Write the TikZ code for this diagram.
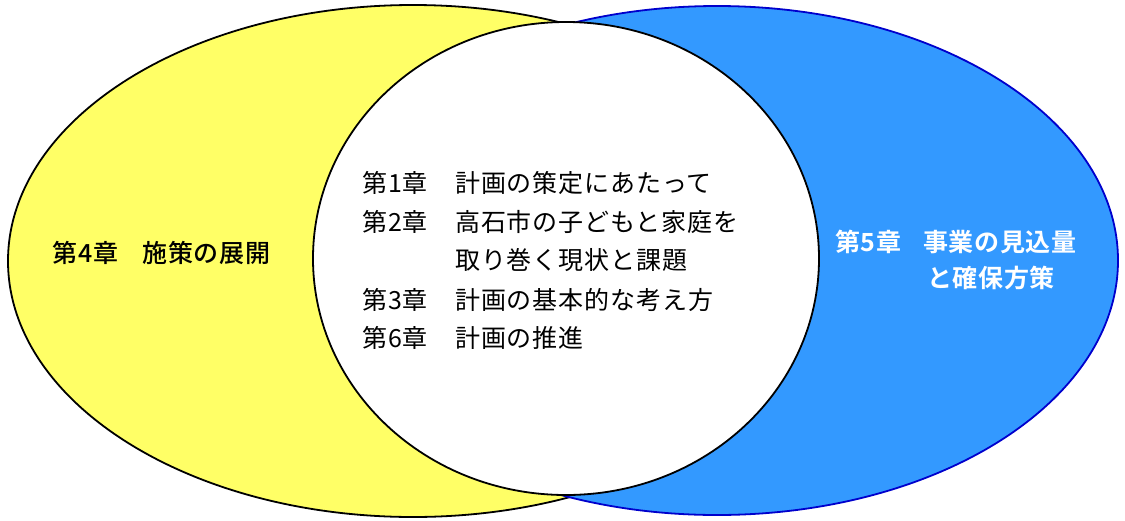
\documentclass[tikz,border=0pt]{standalone}
\usepackage{fontspec}
\usetikzlibrary{shapes.geometric}
\newfontfamily\jp[LetterSpace=3.5]{Noto Sans CJK JP}
\newfontfamily\jpm[LetterSpace=3.5]{Noto Sans CJK JP Medium}
\newfontfamily\jpb[LetterSpace=2.5]{Noto Sans CJK JP Bold}
\definecolor{yelfill}{HTML}{FFFF66}
\definecolor{bluefill}{HTML}{3399FF}
\definecolor{blueline}{HTML}{0000CC}
\begin{document}
\begin{tikzpicture}[x=1pt,y=-1pt,
  oval/.style={ellipse, inner sep=0pt, outer sep=0pt, line width=1.8pt},
  lbl/.style={anchor=west, inner sep=0pt, font=\jp\fontsize{25}{29}\selectfont},
  mlbl/.style={anchor=west, inner sep=0pt, font=\jpm\fontsize{25}{29}\selectfont},
  wlbl/.style={anchor=west, inner sep=0pt, text=white, font=\jpb\fontsize{25}{29}\selectfont}]
\useasboundingbox (0,0) rectangle (1125,520);
\node[oval, draw=black, fill=yelfill, minimum width=810pt, minimum height=512pt] (yel) at (413,261) {};
\node[oval, draw=blueline, fill=bluefill, minimum width=802pt, minimum height=509pt] (blu) at (717,260.5) {};
\node[oval, draw=black, fill=white, minimum width=506pt, minimum height=473pt] (wht) at (566,258.5) {};

\node[mlbl] (c4) at (52,253) {第4章};
\node[mlbl] (t4) at (142,253) {施策の展開};

\node[lbl] (c1) at (362,183) {第1章};
\node[lbl] (t1) at (455,183) {計画の策定にあたって};
\node[lbl] (c2) at (362,222) {第2章};
\node[lbl] (t2) at (455,222) {高石市の子どもと家庭を};
\node[lbl] (t2b) at (455,260) {取り巻く現状と課題};
\node[lbl] (c3) at (362,300) {第3章};
\node[lbl] (t3) at (455,300) {計画の基本的な考え方};
\node[lbl] (c6) at (362,338) {第6章};
\node[lbl] (t6) at (455,338) {計画の推進};

\node[wlbl] (c5) at (835,242) {第5章};
\node[wlbl] (t5) at (923,242) {事業の見込量};
\node[wlbl] (t5b) at (927,278) {と確保方策};
\end{tikzpicture}
\end{document}
